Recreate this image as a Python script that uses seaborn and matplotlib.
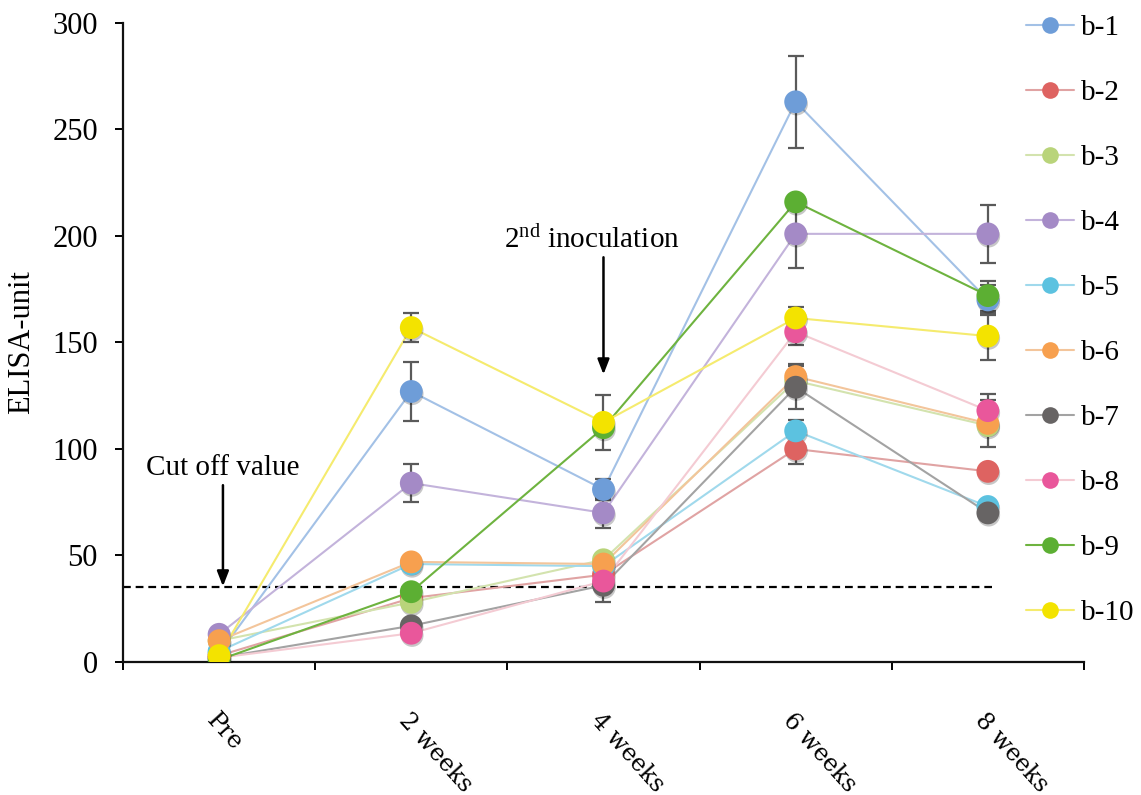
import numpy as np
import pandas as pd
import matplotlib
matplotlib.use("Agg")
import matplotlib.pyplot as plt
import matplotlib.patheffects as pe
import matplotlib.transforms as mtransforms
from matplotlib.lines import Line2D
import seaborn as sns

# ---- data -------------------------------------------------------------
timepoints = ["Pre", "2 weeks", "4 weeks", "6 weeks", "8 weeks"]
samples = ["b-1", "b-2", "b-3", "b-4", "b-5", "b-6", "b-7", "b-8", "b-9", "b-10"]

b1 = [4, 127, 81, 263, 170]
b2 = [3, 30, 41, 100, 89.5]
b3 = [10, 28, 48, 132, 111]
b4 = [13, 84, 70, 201, 201]
b5 = [5, 46, 45, 108.5, 73]
b6 = [10, 47, 46, 134, 112]
b7 = [2, 17, 36, 129, 70]
b8 = [2, 13.5, 38, 155, 118]
b9 = [1, 33, 110, 216, 172]
b10 = [3, 157, 112.5, 161.5, 153]

e1 = [0, 14, 5, 21.5, 7]
e2 = [0, 0, 0, 7, 0]
e3 = [0, 0, 0, 0, 0]
e4 = [0, 9, 7, 16, 13.5]
e5 = [0, 0, 0, 5, 0]
e6 = [0, 0, 0, 6, 11]
e7 = [0, 0, 8, 10, 0]
e8 = [0, 0, 0, 6, 8]
e9 = [0, 0, 0, 0, 7]
e10 = [0, 7, 13, 5, 11]

cutoff = 35

values = [b1, b2, b3, b4, b5, b6, b7, b8, b9, b10]
errors = [e1, e2, e3, e4, e5, e6, e7, e8, e9, e10]

marker_colors = ["#6E9DD8", "#DE6361", "#B9D47A", "#A48AC6", "#5CC2E0",
                 "#F7A04F", "#676464", "#E9579B", "#5CAF33", "#F3E300"]
line_colors = ["#A3C1E6", "#E0A3A3", "#D3E3AE", "#C3B3DB", "#A0D9EC",
               "#F3C59B", "#A3A3A3", "#F4CBD3", "#6EB33F", "#F5EB6E"]

rows = []
for name, vals, errs in zip(samples, values, errors):
    for i, (t, v, e) in enumerate(zip(timepoints, vals, errs)):
        rows.append({"sample": name, "pos": i, "time": t, "value": v, "err": e})
df = pd.DataFrame(rows)

# ---- style ------------------------------------------------------------
sns.set_style("ticks")
plt.rcParams["font.family"] = ["Liberation Serif", "DejaVu Serif"]
plt.rcParams["mathtext.fontset"] = "stix"
for key in ["text.color", "axes.labelcolor", "xtick.color", "ytick.color"]:
    plt.rcParams[key] = "black"

fig = plt.figure(figsize=(11.41, 7.95), dpi=100)
ax = fig.add_axes([0.1078, 0.1673, 0.8422, 0.8038])

# connecting lines (lighter tint of each sample colour)
sns.lineplot(data=df, x="pos", y="value", hue="sample", hue_order=samples,
             palette=dict(zip(samples, line_colors)), linewidth=1.5,
             legend=False, sort=False, ax=ax, zorder=2)

# error bars
for name, grp in df.groupby("sample", sort=False):
    g = grp[grp["err"] > 0]
    if len(g):
        ax.errorbar(g["pos"], g["value"], yerr=g["err"], fmt="none",
                    ecolor="#5a5a5a", elinewidth=1.6, capsize=5.5,
                    capthick=1.6, zorder=3)

# markers, later samples on top
sns.scatterplot(data=df, x="pos", y="value", hue="sample", hue_order=samples,
                palette=dict(zip(samples, marker_colors)), s=270,
                edgecolor="none", legend=False, ax=ax, zorder=4)
ax.collections[-1].set_path_effects([
    pe.SimplePatchShadow(offset=(0.6, -1.6), shadow_rgbFace="#000000",
                         alpha=0.22),
    pe.Normal()])

# cut-off line
ax.hlines(cutoff, -0.5, 4.02, colors="black", linestyles=(0, (3.5, 2.2)),
          linewidth=1.6, zorder=1)

# annotations
arrow = dict(arrowstyle="-|>,head_length=0.9,head_width=0.35",
             color="black", lw=1.8, shrinkA=0, shrinkB=0)
ax.annotate("", xy=(0.02, cutoff + 0.5), xytext=(0.02, 83), arrowprops=arrow)
ax.text(0.02, 91, "Cut off value", ha="center", va="center", fontsize=21)
ax.annotate("", xy=(2.0, 135), xytext=(2.0, 190), arrowprops=arrow)
ax.text(1.94, 198, r"$\mathregular{2^{nd}}$ inoculation", ha="center",
        va="center", fontsize=21)

# axes
ax.set_xlim(-0.5, 4.5)
ax.set_ylim(0, 300)
ax.set_yticks(np.arange(0, 301, 50))
ax.set_xticks(range(len(timepoints)))
ax.set_xticks(np.arange(-0.5, 4.6, 1), minor=True)
ax.set_xticklabels(timepoints)
ax.set_xlabel("")
ax.set_ylabel("ELISA-unit", fontsize=22, labelpad=12)
ax.tick_params(axis="y", labelsize=22, length=6, width=1.4, direction="out",
               pad=12)
ax.tick_params(axis="x", which="major", length=0, pad=34)
ax.tick_params(axis="x", which="minor", length=6, width=1.4, direction="out")
for sp in ["top", "right"]:
    ax.spines[sp].set_visible(False)
for sp in ["left", "bottom"]:
    ax.spines[sp].set_linewidth(1.6)
    ax.spines[sp].set_color("#111111")

shift = mtransforms.ScaledTranslation(0 / 100, 0, fig.dpi_scale_trans)
for lab in ax.get_xticklabels():
    lab.set_rotation(-48)
    lab.set_rotation_mode("anchor")
    lab.set_ha("left")
    lab.set_va("top")
    lab.set_fontfamily("DejaVu Serif")
    lab.set_fontsize(17)
    lab.set_transform(lab.get_transform() + shift)

# legend
handles = [Line2D([0], [0], color=lc, lw=1.5, marker="o", markersize=12,
                  markerfacecolor=mc, markeredgecolor="none")
           for lc, mc in zip(line_colors, marker_colors)]
fig.legend(handles, samples, loc="center left",
           bbox_to_anchor=(0.889, 0.597), frameon=False, fontsize=21,
           labelspacing=1.32, handlelength=1.65, handletextpad=0.25,
           borderaxespad=0)

fig.savefig("out.png", dpi=100)
